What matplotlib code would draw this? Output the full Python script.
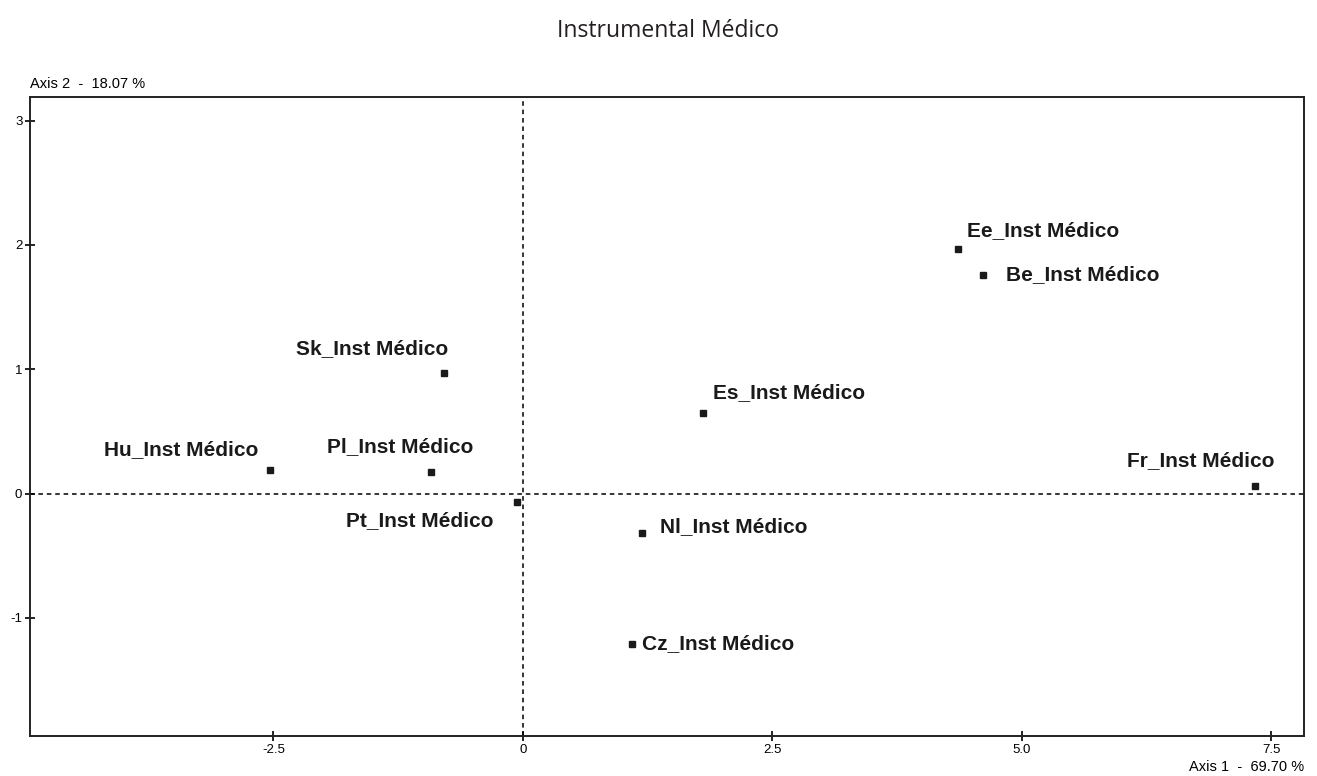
import matplotlib.pyplot as plt

# Correspondence analysis coordinates
labels = ['Ee_Inst Médico', 'Be_Inst Médico', 'Sk_Inst Médico', 'Es_Inst Médico',
          'Hu_Inst Médico', 'Pl_Inst Médico', 'Pt_Inst Médico', 'Fr_Inst Médico',
          'Nl_Inst Médico', 'Cz_Inst Médico']
axis1 = [4.36, 4.61, -0.79, 1.81, -2.53, -0.92, -0.06, 7.34, 1.19, 1.09]
axis2 = [1.97, 1.76, 0.97, 0.65, 0.19, 0.17, -0.07, 0.06, -0.32, -1.21]

# label offsets in pixels (left edge of text, vertical centre)
offsets = [(9, 18), (23, 0), (-148, 24), (10, 20), (-166, 20),
           (-104, 26), (-171, -18), (-128, 26), (18, 7), (10, 0)]

fig = plt.figure(figsize=(13.17, 7.76), dpi=100)
ax = fig.add_axes([30 / 1317, 40 / 776, 1274 / 1317, 639 / 776])

ax.axhline(0, color='black', linestyle=(0, (3, 2.5)), linewidth=1.1, zorder=1)
ax.axvline(0, color='black', linestyle=(0, (3, 2.5)), linewidth=1.1, zorder=1)

ax.plot(axis1, axis2, 's', color='#1a1a1a', markersize=4.5, linestyle='none', zorder=3)

for x, y, lab, (dx, dy) in zip(axis1, axis2, labels, offsets):
    ax.annotate(lab, (x, y), xytext=(dx * 0.72, dy * 0.72), textcoords='offset points',
                ha='left', va='center', fontsize=15, fontweight='bold',
                family='Liberation Sans', color='#1a1a1a')

ax.set_xlim(-4.94, 7.83)
ax.set_ylim(-1.95, 3.19)
ax.set_xticks([-2.5, 0, 2.5, 5.0, 7.5])
ax.set_xticklabels(['-2.5', '0', '2.5', '5.0', '7.5'])
ax.set_yticks([-1, 0, 1, 2, 3])
ax.set_yticklabels(['-1', '0', '1', '2', '3'])
ax.tick_params(direction='inout', length=7, width=1.2, labelsize=9.5, pad=2)
for lbl in ax.get_xticklabels() + ax.get_yticklabels():
    lbl.set_family('Liberation Sans')
for s in ax.spines.values():
    s.set_linewidth(1.4)
    s.set_color('#222222')

fig.text(30 / 1317, 1 - 84 / 776, 'Axis 2  -  18.07 %', ha='left', va='center',
         fontsize=10.5, family='Liberation Sans')
fig.text(1304 / 1317, 1 - 767 / 776, 'Axis 1  -  69.70 %', ha='right', va='center',
         fontsize=10.5, family='Liberation Sans')
fig.text(668 / 1317, 1 - 31 / 776, 'Instrumental Médico', ha='center', va='center',
         fontsize=16.5, family='Open Sans', color='#231f20')

fig.savefig('out.png', dpi=100, facecolor='white')
